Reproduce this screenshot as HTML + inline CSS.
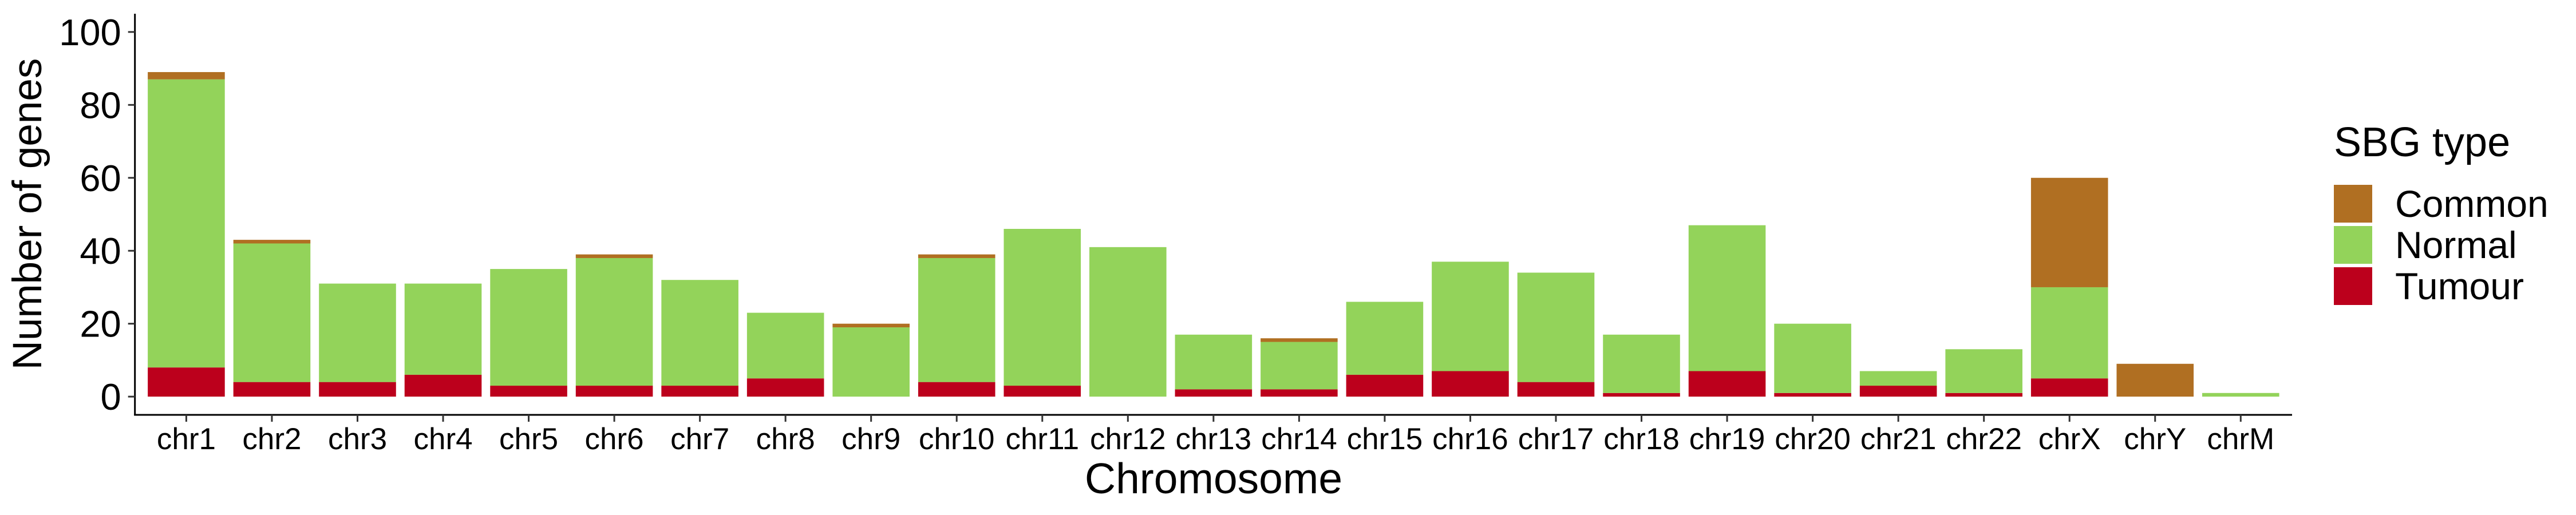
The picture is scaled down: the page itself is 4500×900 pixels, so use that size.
<!DOCTYPE html>
<html><head><meta charset="utf-8"><style>
html,body{margin:0;padding:0;background:#fff;}
svg{display:block;font-family:"Liberation Sans",Arial,sans-serif;}
</style></head><body>
<svg id="chart" width="4500" height="900" viewBox="0 0 4500 900" xmlns="http://www.w3.org/2000/svg">
<g id="bars"></g>
<g id="axes"></g>
<text x="0" y="0" transform="translate(72,374) rotate(-90)" text-anchor="middle" font-size="71">Number of genes</text>
<text x="2120" y="862" text-anchor="middle" font-size="75">Chromosome</text>
<g>
<text x="4077" y="273" font-size="72">SBG type</text>
<rect x="4077" y="323" width="67" height="66" fill="#B06F22"/>
<text x="4184" y="379" font-size="66">Common</text>
<rect x="4077" y="395" width="67" height="66" fill="#93D35A"/>
<text x="4184" y="451" font-size="66">Normal</text>
<rect x="4077" y="467" width="67" height="66" fill="#BC001C"/>
<text x="4184" y="523" font-size="66">Tumour</text>
</g>
</svg>
<script>
const categories = ["chr1","chr2","chr3","chr4","chr5","chr6","chr7","chr8","chr9","chr10","chr11","chr12","chr13","chr14","chr15","chr16","chr17","chr18","chr19","chr20","chr21","chr22","chrX","chrY","chrM"];
const tumour = [8,4,4,6,3,3,3,5,0,4,3,0,2,2,6,7,4,1,7,1,3,1,5,0,0];
const normal = [79,38,27,25,32,35,29,18,19,34,43,41,15,13,20,30,30,16,40,19,4,12,25,0,1];
const common = [2,1,0,0,0,1,0,0,1,1,0,0,0,1,0,0,0,0,0,0,0,0,30,9,0];
const yTicks = [0,20,40,60,80,100];

const NS = "http://www.w3.org/2000/svg";
const xLeft = 235.7, xRight = 4004, yTop = 24, yBottom = 725;
const yMin = -5, yMax = 105;
const band = (xRight - xLeft) / (categories.length + 0.2);
function xScale(i){ return xLeft + band * (0.6 + i); }
function yScale(v){ return yBottom - (v - yMin) / (yMax - yMin) * (yBottom - yTop); }
const barsG = document.getElementById('bars');
const axesG = document.getElementById('axes');
function mk(tag, attrs, parent){ const e = document.createElementNS(NS, tag); for (const k in attrs) e.setAttribute(k, attrs[k]); parent.appendChild(e); return e; }

const series = [["tumour", tumour, "#BC001C"], ["normal", normal, "#93D35A"], ["common", common, "#B06F22"]];
categories.forEach((c, i) => {
  let base = 0;
  const bw = band * 0.9;
  series.forEach(([name, arr, col]) => {
    const v = arr[i];
    if (v > 0) {
      const r = mk('rect', {x: xScale(i) - bw/2, y: yScale(base + v), width: bw, height: yScale(base) - yScale(base + v), fill: col}, barsG);
      
      
    }
    base += v;
  });
});

const yl = mk('line', {x1: xLeft, x2: xLeft, y1: yTop, y2: yBottom + 1.5, stroke: '#000', 'stroke-width': 3}, axesG);


const xl = mk('line', {x1: xLeft - 1.5, x2: xRight, y1: yBottom, y2: yBottom, stroke: '#000', 'stroke-width': 3}, axesG);



yTicks.forEach(t => {
  const y = yScale(t);
  const tk = mk('line', {x1: xLeft - 12, x2: xLeft, y1: y, y2: y, stroke: '#333', 'stroke-width': 3}, axesG);
  
  
  const tx = mk('text', {x: xLeft - 24, y: y + 23, 'text-anchor': 'end', 'font-size': 65}, axesG);
  tx.textContent = t;
  
  
});
categories.forEach((c, i) => {
  const x = xScale(i);
  const tk = mk('line', {x1: x, x2: x, y1: yBottom, y2: yBottom + 12, stroke: '#333', 'stroke-width': 3}, axesG);
  
  
  const tx = mk('text', {x: x, y: 785, 'text-anchor': 'middle', 'font-size': 53}, axesG);
  tx.textContent = c;
  
  
});
</script>
</body></html>
